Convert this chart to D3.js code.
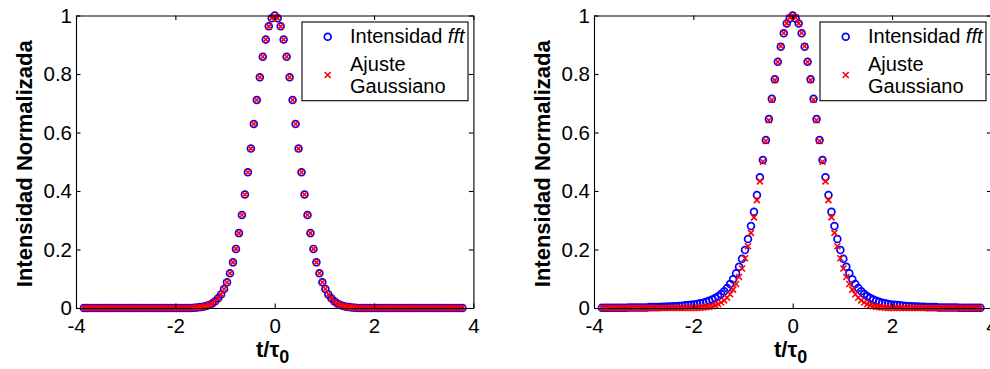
<!DOCTYPE html>
<html><head><meta charset="utf-8">
<script src="https://cdn.jsdelivr.net/npm/d3@7"></script>
<style>
body{margin:0;background:#fff}
svg{display:block}
text{font-family:Arial,"Liberation Sans",sans-serif;fill:#000}
</style>
</head><body>
<svg id="chart" width="990" height="369"></svg>
<script>
// ---- data ----
const tValues = [
-3.84,-3.78,-3.72,-3.66,-3.60,-3.54,-3.48,-3.42,-3.36,-3.30,
-3.24,-3.18,-3.12,-3.06,-3.00,-2.94,-2.88,-2.82,-2.76,-2.70,
-2.64,-2.58,-2.52,-2.46,-2.40,-2.34,-2.28,-2.22,-2.16,-2.10,
-2.04,-1.98,-1.92,-1.86,-1.80,-1.74,-1.68,-1.62,-1.56,-1.50,
-1.44,-1.38,-1.32,-1.26,-1.20,-1.14,-1.08,-1.02,-0.96,-0.90,
-0.84,-0.78,-0.72,-0.66,-0.60,-0.54,-0.48,-0.42,-0.36,-0.30,
-0.24,-0.18,-0.12,-0.06,0.00,0.06,0.12,0.18,0.24,0.30,
0.36,0.42,0.48,0.54,0.60,0.66,0.72,0.78,0.84,0.90,
0.96,1.02,1.08,1.14,1.20,1.26,1.32,1.38,1.44,1.50,
1.56,1.62,1.68,1.74,1.80,1.86,1.92,1.98,2.04,2.10,
2.16,2.22,2.28,2.34,2.40,2.46,2.52,2.58,2.64,2.70,
2.76,2.82,2.88,2.94,3.00,3.06,3.12,3.18,3.24,3.30,
3.36,3.42,3.48,3.54,3.60,3.66,3.72,3.78
];

// left panel: intensidad fft
const fftLeft = [
0,0,0,0,0,0,0,0,0,0, 0,0,0,0,0,0,0,0,0,0, 0,0,0,0,0,0,0,0,0,0, 0,0,0,0,0,0,0,
0.001,0.002,0.003,0.004,0.007,0.010,0.015,0.023,0.033,0.046,
0.065,0.088,0.119,0.156,0.202,0.256,0.318,0.388,0.464,0.545,
0.629,0.711,0.789,0.859,0.918,0.963,0.991,
1.000,
0.991,0.963,0.918,0.859,0.789,0.711,0.629,0.545,0.464,0.388,
0.318,0.256,0.202,0.156,0.119,0.088,0.065,0.046,0.033,0.023,
0.015,0.010,0.007,0.004,0.003,0.002,0.001,
0,0,0,0,0,0,0,0,0,0, 0,0,0,0,0,0,0,0,0,0, 0,0,0,0,0,0,0,0,0,0, 0,0,0,0,0,0
];
// left panel: ajuste gaussiano
const fitLeft = [
0,0,0,0,0,0,0,0,0,0, 0,0,0,0,0,0,0,0,0,0, 0,0,0,0,0,0,0,0,0,0, 0,0,0,0,0,0,0,
0.001,0.002,0.003,0.004,0.007,0.010,0.015,0.023,0.033,0.046,
0.065,0.088,0.119,0.156,0.202,0.256,0.318,0.388,0.464,0.545,
0.629,0.711,0.789,0.859,0.918,0.963,0.991,
0.998,
0.991,0.963,0.918,0.859,0.789,0.711,0.629,0.545,0.464,0.388,
0.318,0.256,0.202,0.156,0.119,0.088,0.065,0.046,0.033,0.023,
0.015,0.010,0.007,0.004,0.003,0.002,0.001,
0,0,0,0,0,0,0,0,0,0, 0,0,0,0,0,0,0,0,0,0, 0,0,0,0,0,0,0,0,0,0, 0,0,0,0,0,0
];
// right panel: intensidad fft
const fftRight = [
0.001,0.001,0.001,0.001,0.001,0.001,0.001,0.001,0.001,
0.002,0.002,0.002,0.002,0.002,0.002,0.002,
0.003,0.003,0.003,0.003,
0.004,0.004,0.005,0.005,0.006,0.006,
0.007,0.008,0.009,0.010,0.011,0.012,0.014,0.016,0.018,0.021,
0.025,0.029,0.034,0.040,0.048,0.057,0.068,0.082,0.098,0.119,
0.141,0.168,0.198,0.236,0.280,0.329,0.386,0.447,0.506,0.574,
0.646,0.715,0.782,0.842,0.893,0.939,0.973,0.990,
1.000,
0.990,0.973,0.939,0.893,0.842,0.782,0.715,0.646,0.574,0.506,
0.447,0.386,0.329,0.280,0.236,0.198,0.168,0.141,0.119,0.098,
0.082,0.068,0.057,0.048,0.040,0.034,0.029,0.025,0.021,0.018,
0.016,0.014,0.012,0.011,0.010,0.009,0.008,0.007,
0.006,0.006,0.005,0.005,0.004,0.004,
0.003,0.003,0.003,0.003,
0.002,0.002,0.002,0.002,0.002,0.002,0.002,
0.001,0.001,0.001,0.001,0.001,0.001,0.001,0.001
];
// right panel: ajuste gaussiano
const fitRight = [
0,0,0,0,0,0,0,0,0,0, 0,0,0,0,0,0,0,0,0,0, 0,0,0,0,0,0,0,0,0,0, 0,0,0,
0.001,0.002,0.003,0.004,0.006,0.009,0.013,0.019,0.026,0.035,
0.047,0.063,0.082,0.106,0.135,0.170,0.211,0.257,0.310,0.369,
0.433,0.500,0.571,0.642,0.712,0.779,0.841,0.895,0.940,0.973,0.993,
1.000,
0.993,0.973,0.940,0.895,0.841,0.779,0.712,0.642,0.571,0.500,
0.433,0.369,0.310,0.257,0.211,0.170,0.135,0.106,0.082,0.063,
0.047,0.035,0.026,0.019,0.013,0.009,0.006,0.004,0.003,0.002,0.001,
0,0,0,0,0,0,0,0,0,0, 0,0,0,0,0,0,0,0,0,0, 0,0,0,0,0,0,0,0,0,0, 0,0
];

const xTicks = [-4,-2,0,2,4];
const xTickLabels = ["-4","-2","0","2","4"];
const yTicks = [0,0.2,0.4,0.6,0.8,1];
const yTickLabels = ["0","0.2","0.4","0.6","0.8","1"];
const yTitle = "Intensidad Normalizada";
const legendFft = "Intensidad ";
const legendFftItalic = "fft";
const legendFit = ["Ajuste","Gaussiano"];

// ---- drawing ----
const svg = d3.select("#chart");
const panels = [
  {left:76,  fft:fftLeft,  fit:fitLeft},
  {left:594, fft:fftRight, fit:fitRight}
];
const W = 397.4, TOP = 15.5, BOTTOM = 308;
const BLUE = "#0000ff", RED = "#ff0000";
const crossPath = "M-3,-3L3,3M-3,3L3,-3";

function styleAxis(sel){
  sel.attr("font-size",20.5).attr("font-family",'Arial,"Liberation Sans",sans-serif');
  sel.selectAll("path.domain").attr("stroke","#000").attr("stroke-width",1.1);
  sel.selectAll(".tick line").attr("stroke","#000").attr("stroke-width",1.1);
  sel.selectAll(".tick text").attr("fill","#000");
}

panels.forEach(p => {
  const x = d3.scaleLinear().domain([-4,4]).range([p.left, p.left + W]);
  const y = d3.scaleLinear().domain([0,1]).range([BOTTOM, TOP]);
  const g = svg.append("g");

  // data points
  const n = Math.min(tValues.length, p.fft.length, p.fit.length);
  const idx = d3.range(n);
  g.append("g").selectAll("circle").data(idx).join("circle")
    .attr("cx", i => x(tValues[i])).attr("cy", i => y(p.fft[i]))
    .attr("r", 3.4).attr("fill","none").attr("stroke",BLUE).attr("stroke-width",1.7);
  g.append("g").selectAll("path").data(idx).join("path")
    .attr("d", crossPath)
    .attr("transform", i => `translate(${x(tValues[i])},${y(p.fit[i])})`)
    .attr("fill","none").attr("stroke",RED).attr("stroke-width",1.6);

  // axes (box with inward ticks)
  g.append("g").attr("transform",`translate(0,${BOTTOM})`)
    .call(d3.axisBottom(x).tickValues(xTicks).tickFormat((d,i)=>xTickLabels[i])
      .tickSizeInner(-4.5).tickSizeOuter(0).tickPadding(10.5)).call(styleAxis);
  g.append("g").attr("transform",`translate(0,${TOP})`)
    .call(d3.axisTop(x).tickValues(xTicks).tickFormat("")
      .tickSizeInner(-4.5).tickSizeOuter(0)).call(styleAxis);
  g.append("g").attr("transform",`translate(${p.left},0)`)
    .call(d3.axisLeft(y).tickValues(yTicks).tickFormat((d,i)=>yTickLabels[i])
      .tickSizeInner(-4.5).tickSizeOuter(0).tickPadding(4)).call(styleAxis);
  g.append("g").attr("transform",`translate(${p.left + W},0)`)
    .call(d3.axisRight(y).tickValues(yTicks).tickFormat("")
      .tickSizeInner(-4.5).tickSizeOuter(0)).call(styleAxis);

  // axis titles
  g.append("text")
    .attr("transform",`translate(${p.left - 44},${(TOP+BOTTOM)/2 + 2}) rotate(-90)`)
    .attr("text-anchor","middle").attr("font-size",22).attr("font-weight","bold")
    .text(yTitle);
  const xt = g.append("text")
    .attr("x", x(0) - 2).attr("y", 357)
    .attr("text-anchor","middle").attr("font-size",22).attr("font-weight","bold");
  xt.append("tspan").text("t/\u03C4");
  xt.append("tspan").attr("font-size",18).attr("dy",6).text("0");

  // legend
  const lg = g.append("g").attr("transform",`translate(${p.left + 226},22)`);
  lg.append("rect").attr("width",166).attr("height",78.7)
    .attr("fill","#fff").attr("stroke","#000").attr("stroke-width",1.1);
  lg.append("circle").attr("cx",25.7).attr("cy",14.7).attr("r",3.4)
    .attr("fill","none").attr("stroke",BLUE).attr("stroke-width",1.7);
  const t1 = lg.append("text").attr("x",48).attr("y",21.3).attr("font-size",20);
  t1.append("tspan").text(legendFft);
  t1.append("tspan").attr("font-style","italic").text(legendFftItalic);
  lg.append("path").attr("d",crossPath).attr("transform","translate(25.7,53)")
    .attr("fill","none").attr("stroke",RED).attr("stroke-width",1.6);
  lg.append("text").attr("x",48).attr("y",49).attr("font-size",20).text(legendFit[0]);
  lg.append("text").attr("x",48).attr("y",70.7).attr("font-size",20).text(legendFit[1]);
});
</script>
</body></html>
